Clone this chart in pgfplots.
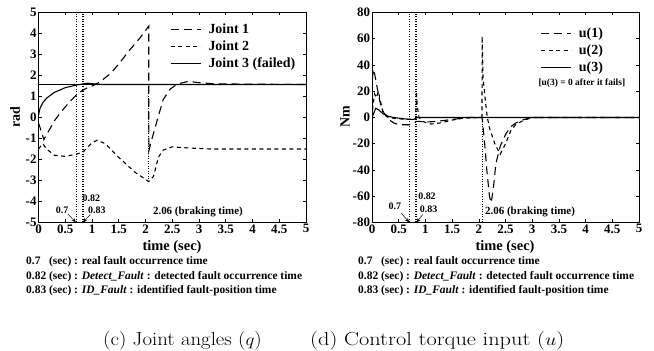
\documentclass[border=0pt]{standalone}
\usepackage{fontspec}
\newfontfamily\tnr{Liberation Serif}
\usepackage{pgfplots}
\pgfplotsset{compat=1.18}
\usetikzlibrary{arrows.meta}

\tikzset{
  longd/.style={black, line width=1.1pt, dash pattern=on 8bp off 5bp},
  shortd/.style={black, line width=1.1pt, dash pattern=on 4bp off 3.5bp},
  solidl/.style={black, line width=1.1pt},
  vdot/.style={black, line width=0.6pt, dash pattern=on 1bp off 1.5bp},
  ann/.style={font=\tnr\bfseries\fontsize{10}{10}\selectfont, inner sep=0.5pt},
  arr/.style={-{Stealth[length=4.5bp,width=3.5bp]}, line width=0.5pt},
}
\pgfplotsset{
  mat/.style={
    scale only axis, width=267.5bp, height=210bp,
    anchor=south west,
    xmin=0, xmax=5,
    xtick={0,0.5,1,1.5,2,2.5,3,3.5,4,4.5,5},
    xticklabels={0,0.5,1,1.5,2,2.5,3,3.5,4,4.5,5},
    tick align=inside, tick pos=both,
    major tick length=3bp,
    axis line style={line width=1pt},
    every tick/.style={black, line width=0.6pt},
    /pgf/number format/assume math mode=true,
    tick label style={font=\tnr\bfseries\fontsize{13}{13}\selectfont},
    xticklabel style={yshift=1.5bp},
    yticklabel style={xshift=1.5bp},
    legend cell align=left,
    legend image code/.code={\draw[##1] (0bp,0bp) -- (30bp,0bp); \path (35bp,0bp);},
    legend style={draw=none, fill=none, inner sep=0.5pt, row sep=2pt,
      font=\tnr\bfseries\fontsize{14}{14}\selectfont},
  },
}

\begin{document}
\begin{tikzpicture}
\useasboundingbox (0,0) rectangle (654bp,351bp);

% ---------------- left panel: joint angles ----------------
\begin{axis}[mat, at={(38.5bp,128.5bp)},
  ymin=-5, ymax=5, ytick={-5,-4,-3,-2,-1,0,1,2,3,4,5},
  legend style={at={(0.97,0.96)}, anchor=north east}]
\addplot[longd] coordinates {
(0,-0.25)(0.05,-0.65)(0.1,-1.05)(0.2,-0.6)(0.3,-0.15)(0.4,0.2)(0.5,0.5)
(0.6,0.8)(0.7,1.05)(0.8,1.25)(0.9,1.4)(1.0,1.5)(1.1,1.62)(1.2,1.8)
(1.35,2.1)(1.5,2.55)(1.7,3.2)(1.9,3.8)(2.06,4.35)(2.062,-1.6)(2.1,-1.2)
(2.2,-0.3)(2.33,0.85)(2.46,1.35)(2.6,1.6)(2.8,1.72)(3.0,1.66)(3.3,1.6)(5,1.57)};
\addlegendentry{Joint 1}
\addplot[shortd] coordinates {
(0,-1.5)(0.08,-1.25)(0.15,-1.5)(0.3,-1.8)(0.5,-1.85)(0.7,-1.75)(0.83,-1.65)
(1.0,-1.2)(1.1,-1.08)(1.25,-1.25)(1.5,-1.9)(1.8,-2.6)(2.06,-3.05)(2.15,-2.8)
(2.24,-1.9)(2.33,-1.55)(2.5,-1.4)(2.8,-1.45)(3.2,-1.5)(5,-1.5)};
\addlegendentry{Joint 2}
\addplot[solidl] coordinates {
(0,0.1)(0.03,0.45)(0.08,0.7)(0.15,0.92)(0.3,1.2)(0.5,1.42)(0.7,1.54)
(0.83,1.6)(0.92,1.63)(1.0,1.61)(1.2,1.57)(5,1.57)};
\addlegendentry{Joint 3 (failed)}
\addplot[black, line width=0.5pt, forget plot] coordinates {(0,1.57)(5,1.57)};
\addplot[vdot, forget plot] coordinates {(0.7,-5)(0.7,5)};
\addplot[vdot, forget plot] coordinates {(0.82,-5)(0.82,5)};
\addplot[vdot, forget plot] coordinates {(0.83,-5)(0.83,5)};
\addplot[vdot, forget plot] coordinates {(2.06,-3.05)(2.06,1.57)};
\node[ann] at (axis cs:0.44,-4.4) {0.7};
\node[ann] at (axis cs:0.99,-3.85) {0.82};
\node[ann] at (axis cs:1.09,-4.4) {0.83};
\draw[arr] (axis cs:0.55,-4.6) -- (axis cs:0.7,-5);
\draw[arr] (axis cs:0.97,-4.62) -- (axis cs:0.83,-5);
\node[font=\tnr\bfseries\fontsize{11}{11}\selectfont] at (axis cs:2.98,-4.5) {2.06 (braking time)};
\end{axis}

% ---------------- right panel: control torque ----------------
\begin{axis}[mat, at={(372bp,128.5bp)}, width=267bp,
  ymin=-80, ymax=80, ytick={-80,-60,-40,-20,0,20,40,60,80},
  legend style={at={(0.875,0.94)}, anchor=north east}]
\addplot[longd] coordinates {
(0,0)(0.01,30)(0.02,37)(0.05,33)(0.1,22)(0.15,12)(0.2,5)(0.3,-1)(0.4,-4)
(0.5,-5.5)(0.7,-5.5)(0.8,-4)(0.83,-3)(0.9,-3)(1.0,-3.5)(1.2,-3)(1.4,-2)
(1.6,-1)(1.8,0)(2.06,0)(2.1,-15)(2.15,-40)(2.2,-60)(2.23,-65)(2.27,-55)
(2.32,-35)(2.4,-22)(2.5,-13)(2.6,-7)(2.7,-4)(2.85,-1.5)(3.0,0)(5,0)};
\addlegendentry{u(1)}
\addplot[shortd] coordinates {
(0,0)(0.02,10)(0.05,18)(0.08,15)(0.12,20)(0.16,12)(0.2,5)(0.3,0)(0.5,-1)
(0.7,-1.5)(0.8,-1)(0.82,0)(0.83,20)(0.85,8)(0.88,0)(0.95,-3)(1.1,-5)
(1.3,-4)(1.5,-2)(1.7,-0.5)(2.06,0)(2.062,62)(2.08,30)(2.1,22)(2.13,10)
(2.16,0)(2.2,-8)(2.3,-20)(2.4,-28)(2.5,-20)(2.6,-10)(2.7,-5)(2.85,-2)(3.0,0)(5,0)};
\addlegendentry{u(2)}
\addplot[solidl] coordinates {
(0,0)(0.03,3)(0.07,7)(0.12,6)(0.2,3)(0.3,1)(0.4,0)(0.6,-1)(0.75,-1.5)
(0.82,-1)(0.83,0)(5,0)};
\addlegendentry{u(3)}
\addplot[vdot, forget plot] coordinates {(0.7,-80)(0.7,80)};
\addplot[vdot, forget plot] coordinates {(0.82,-80)(0.82,80)};
\addplot[vdot, forget plot] coordinates {(0.83,-80)(0.83,80)};
\addplot[vdot, forget plot] coordinates {(2.06,-80)(2.06,0)};
\node[font=\tnr\bfseries\fontsize{9.5}{9.5}\selectfont] at (axis cs:3.93,26) {[u(3) = 0 after it fails]};
\node[ann] at (axis cs:0.43,-68) {0.7};
\node[ann] at (axis cs:1.03,-60) {0.82};
\node[ann] at (axis cs:1.06,-70) {0.83};
\draw[arr] (axis cs:0.55,-73) -- (axis cs:0.7,-80);
\draw[arr] (axis cs:0.95,-74) -- (axis cs:0.83,-80);
\node[font=\tnr\bfseries\fontsize{11}{11}\selectfont] at (axis cs:2.96,-72) {2.06 (braking time)};
\end{axis}

% ---------------- axis titles ----------------
\node[rotate=90, font=\tnr\bfseries\fontsize{14}{14}\selectfont] at (15bp,234bp) {rad};
\node[rotate=90, font=\tnr\bfseries\fontsize{14}{14}\selectfont] at (345bp,234bp) {Nm};
\node[font=\tnr\bfseries\fontsize{14.5}{14.5}\selectfont] at (172bp,104bp) {time (sec)};
\node[font=\tnr\bfseries\fontsize{14.5}{14.5}\selectfont] at (505bp,104bp) {time (sec)};

% ---------------- notes ----------------
\begin{scope}[every node/.style={anchor=base west, inner sep=0pt, font=\tnr\bfseries\fontsize{11.5}{11.5}\selectfont}]
\node at (26bp,86bp) {0.7\ \ \ (sec) : real fault occurrence time};
\node at (26bp,71bp) {0.82 (sec) : \textit{Detect\_Fault} : detected fault occurrence time};
\node at (26bp,57bp) {0.83 (sec) : \textit{ID\_Fault} : identified fault-position time};
\node at (358bp,86bp) {0.7\ \ \ (sec) : real fault occurrence time};
\node at (358bp,71bp) {0.82 (sec) : \textit{Detect\_Fault} : detected fault occurrence time};
\node at (358bp,57bp) {0.83 (sec) : \textit{ID\_Fault} : identified fault-position time};
\end{scope}

% ---------------- captions ----------------
\node[anchor=base west, inner sep=0pt, font=\fontsize{19}{19}\selectfont, xscale=1.1] at (103bp,6bp) {(c) Joint angles ($q$)};
\node[anchor=base west, inner sep=0pt, font=\fontsize{19}{19}\selectfont, xscale=1.18] at (310bp,6bp) {(d) Control torque input ($u$)};
\end{tikzpicture}
\end{document}
